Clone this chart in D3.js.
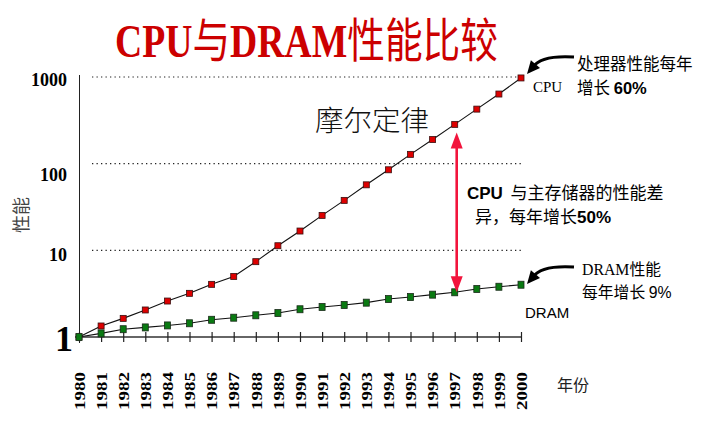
<!DOCTYPE html>
<html><head><meta charset="utf-8">
<script src="https://cdn.jsdelivr.net/npm/d3@7/dist/d3.min.js"></script>
<style>
html,body{margin:0;padding:0;background:#fff;}
svg{display:block;}
</style></head>
<body>
<script>
// ---- data ----
const years = [1980,1981,1982,1983,1984,1985,1986,1987,1988,1989,1990,1991,1992,1993,1994,1995,1996,1997,1998,1999,2000];
const cpuPerf = [1,1.34,1.64,2.05,2.6,3.19,4.05,5.0,7.4,11.3,16.7,25.3,37.7,57,85,128,190,284,426,636,975];
const dramPerf = [1,1.10,1.23,1.29,1.36,1.44,1.58,1.67,1.78,1.89,2.09,2.22,2.34,2.49,2.74,2.89,3.08,3.28,3.58,3.80,4.01];
const yTickValues = [1,10,100,1000];
const yTickLabels = ["1","10","100","1000"];
const gridValues = [10,100,1000];

// ---- layout ----
const W = 728, H = 428;
const svg = d3.select("body").append("svg").attr("width", W).attr("height", H);
const x = d3.scaleLinear().domain([1980,2000]).range([79,521]);
const y = d3.scaleLog().domain([1,1000]).range([337,77]);
const serif = "'Liberation Serif','Times New Roman',serif";
const sans = "'Liberation Sans',Arial,sans-serif";
const cjk = "'Noto Sans CJK SC',sans-serif";

// title
const title = svg.append("text").attr("font-size", 47).attr("fill", "#cc0000");
title.append("tspan").attr("font-family", serif).attr("font-weight", "bold").text("CPU");
title.append("tspan").attr("font-family", cjk).text("与");
title.append("tspan").attr("font-family", serif).attr("font-weight", "bold").text("DRAM");
title.append("tspan").attr("font-family", cjk).text("性能比较");
{
  const w = title.node().getComputedTextLength();
  title.attr("transform", `translate(115,57) scale(${383 / w},1)`);
}

// grid lines
svg.append("g").selectAll("line").data(gridValues).join("line")
  .attr("x1", 92).attr("x2", x(2000))
  .attr("y1", d => y(d)).attr("y2", d => y(d))
  .attr("stroke", "#222").attr("stroke-width", 1.2).attr("stroke-dasharray", "1.3,3.2");

// y axis line
svg.append("line").attr("x1", x(1980) + 0.5).attr("x2", x(1980) + 0.5)
  .attr("y1", 75).attr("y2", 343).attr("stroke", "#222").attr("stroke-width", 1);

// x axis
const xAxis = d3.axisBottom(x).tickValues(years).tickSize(0).tickFormat("");
const gx = svg.append("g").attr("transform", `translate(0,${y(1)})`).call(xAxis);
gx.select(".domain").attr("stroke", "#666").attr("stroke-width", 2.2)
  .attr("d", `M${x(1980) - 4},0H${x(2000)}`);
gx.selectAll(".tick line").attr("y1", -5).attr("y2", 5).attr("stroke", "#222").attr("stroke-width", 1.2);
gx.selectAll(".tick").append("text")
  .attr("transform", "rotate(-90)")
  .attr("x", -35).attr("y", 0).attr("dy", "0.35em")
  .attr("text-anchor", "end")
  .attr("font-family", serif).attr("font-weight", "bold").attr("font-size", 15)
  .attr("fill", "#000")
  .attr("textLength", 38).attr("lengthAdjust", "spacingAndGlyphs")
  .text(d => d);

// y tick labels
const labelNudge = {1: 1, 10: 4, 100: 11, 1000: 3};
svg.append("g").selectAll("text").data(yTickValues).join("text")
  .attr("x", d => d === 1 ? 73 : 67)
  .attr("y", d => y(d) + labelNudge[d])
  .attr("dy", d => d === 1 ? "0.36em" : "0.35em")
  .attr("text-anchor", "end")
  .attr("font-family", serif).attr("font-weight", "bold")
  .attr("font-size", d => d === 1 ? 36 : 18)
  .attr("fill", "#000")
  .text((d, i) => yTickLabels[i]);

// axis titles
svg.append("text").attr("transform", "translate(22,215) rotate(-90)")
  .attr("text-anchor", "middle").attr("dy", "0.35em")
  .attr("font-family", cjk).attr("font-size", 18).attr("fill", "#444").text("性能");
svg.append("text").attr("x", 557).attr("y", 385).attr("dy", "0.35em")
  .attr("font-family", cjk).attr("font-size", 16).attr("fill", "#222").text("年份");

// lines
const line = d3.line().x((d, i) => x(years[i])).y(d => y(d));
svg.append("path").datum(cpuPerf).attr("d", line).attr("fill", "none").attr("stroke", "#111").attr("stroke-width", 1.1);
svg.append("path").datum(dramPerf).attr("d", line).attr("fill", "none").attr("stroke", "#111").attr("stroke-width", 1.1);

// markers
svg.append("g").selectAll("rect").data(cpuPerf).join("rect")
  .attr("x", (d, i) => x(years[i]) - 3).attr("y", d => y(d) - 3)
  .attr("width", 6).attr("height", 6)
  .attr("fill", "#dd0000").attr("stroke", "#3a1010").attr("stroke-width", 0.8);
svg.append("g").selectAll("rect").data(dramPerf).join("rect")
  .attr("x", (d, i) => x(years[i]) - 3).attr("y", d => y(d) - 3.5)
  .attr("width", 6).attr("height", 7)
  .attr("fill", "#0a7a12").attr("stroke", "#1a2a1a").attr("stroke-width", 0.8);

// double arrow (CPU vs DRAM gap at 1997)
{
  const ax = x(1997) + 2;
  const top = y(cpuPerf[17]) + 8, bot = y(dramPerf[17]);
  const col = "#f2143c";
  svg.append("line").attr("x1", ax).attr("x2", ax).attr("y1", top + 12).attr("y2", bot - 12)
    .attr("stroke", col).attr("stroke-width", 2.6);
  svg.append("path").attr("d", `M${ax},${top}L${ax - 6},${top + 16}L${ax + 6},${top + 16}Z`).attr("fill", col);
  svg.append("path").attr("d", `M${ax},${bot}L${ax - 6},${bot - 16}L${ax + 6},${bot - 16}Z`).attr("fill", col);
}

// curved arrows
function curvedArrow(x0, y0, x1, y1) {
  const cx = x1 + 14, cy = y0 - 2;
  svg.append("path").attr("d", `M${x0},${y0}Q${cx},${cy} ${x1 + 6},${y1 - 7}`)
    .attr("fill", "none").attr("stroke", "#000").attr("stroke-width", 3);
  const ang = Math.atan2(7, -6);
  const L = 13, Wd = 6;
  const bx = x1 - L * Math.cos(ang), by = y1 - L * Math.sin(ang);
  const px = -Math.sin(ang) * Wd, py = Math.cos(ang) * Wd;
  svg.append("path").attr("d", `M${x1},${y1}L${bx + px},${by + py}L${bx - px},${by - py}Z`).attr("fill", "#000");
}
curvedArrow(574, 57, 527, 74);
curvedArrow(574, 267, 527, 284);

// annotations: each block is one text element, lines are tspans
function addBlock(xp, yp, lines, size) {
  const t = svg.append("text").attr("x", xp).attr("y", yp).attr("dy", "0.35em").attr("font-size", size).attr("fill", "#000");
  lines.forEach((ln, li) => {
    ln.parts.forEach((p, pi) => {
      const s = t.append("tspan").attr("font-family", p.f).text(p.t);
      if (pi === 0) {
        s.attr("x", xp + (ln.dx || 0));
        if (li > 0) s.attr("dy", ln.gap);
      }
      if (p.b) s.attr("font-weight", "bold");
    });
  });
  return t;
}
addBlock(577, 64, [
  {parts: [{t: "处理器性能每年", f: cjk}]},
  {parts: [{t: "增长 ", f: cjk}, {t: "60%", f: sans, b: true}], gap: 24}
], 16.5);
addBlock(533, 87, [{parts: [{t: "CPU", f: serif}]}], 15);
addBlock(315, 121, [{parts: [{t: "摩尔定律", f: cjk}]}], 28.5).attr("fill", "#111").attr("font-weight", 300);
addBlock(467, 193, [
  {parts: [{t: "CPU", f: sans, b: true}, {t: "  与主存储器的性能差", f: cjk}]},
  {parts: [{t: "异，每年增长", f: cjk}, {t: "50%", f: sans, b: true}], gap: 24, dx: 8}
], 17).style("white-space", "pre");
addBlock(582, 269, [
  {parts: [{t: "DRAM", f: serif}, {t: "性能", f: cjk}]},
  {parts: [{t: "每年增长 ", f: cjk}, {t: "9%", f: sans}], gap: 23}
], 15.8);
addBlock(525, 313, [{parts: [{t: "DRAM", f: sans}]}], 15);
</script>
</body></html>
